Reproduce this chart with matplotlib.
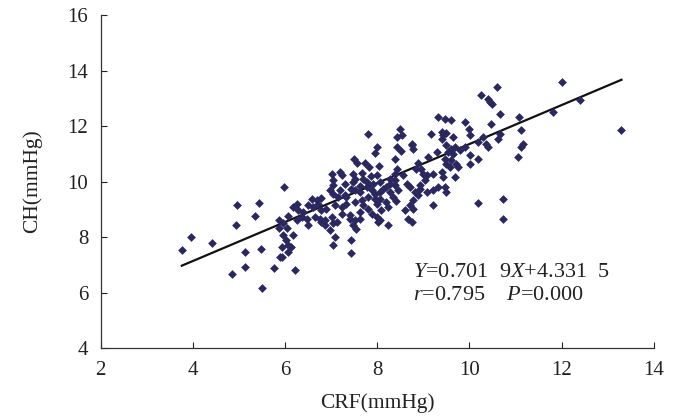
import matplotlib
matplotlib.use("Agg")
import matplotlib.pyplot as plt
import numpy as np

# CRF vs CH (mmHg)
crf = [3.76, 3.95, 4.41, 4.84, 4.93, 4.96, 5.13, 5.13, 5.34, 5.43, 5.49, 5.51, 5.77,
       5.87, 5.88, 5.89, 5.93, 5.93, 5.96, 5.96, 5.98, 6.03, 6.05, 6.07, 6.07, 6.07,
       6.14, 6.18, 6.18, 6.21, 6.25, 6.25, 6.29, 6.36, 6.39, 6.47, 6.50, 6.50,
       6.58, 6.61, 6.65, 6.69, 6.72, 6.76, 6.79, 6.79, 6.79, 6.87, 6.87,
       6.90, 6.97, 6.97, 7.01, 7.01, 7.05, 7.05, 7.05, 7.05,
       7.08, 7.19, 7.19, 7.23, 7.23, 7.30, 7.33, 7.41, 7.44, 7.44, 7.44, 7.48, 7.49,
       7.52, 7.52, 7.52, 7.52, 7.55, 7.57, 7.62, 7.62, 7.66, 7.66, 7.70, 7.73, 7.77,
       7.80, 7.80, 7.81, 7.83, 7.86, 7.88, 7.95, 7.95, 7.99, 7.99, 7.99, 8.04, 8.06,
       8.06, 8.06, 8.20, 8.20, 8.24, 8.27, 8.27, 8.35, 8.38, 8.38, 8.38, 8.38, 8.42,
       8.42, 8.42, 8.46, 8.49, 8.51, 8.53, 8.60, 8.75, 8.75, 8.78, 8.78, 8.89, 8.89,
       8.92, 8.96, 9.07,
       7.12, 7.48, 8.02, 7.08, 7.41, 7.62, 7.88, 8.09, 8.24, 8.67, 7.70, 7.99, 8.40,
       7.05, 7.15, 7.33, 7.95, 8.13, 8.27, 8.64, 7.30, 7.62, 7.91, 8.06, 8.56,
       7.23, 7.77, 7.48,
       12.00, 10.59, 10.25, 10.41, 10.44, 10.48, 10.66, 11.07, 11.82, 12.41, 13.30,
       9.32, 9.47, 9.61, 9.90, 10.47, 10.00, 10.01,
       9.17, 9.40, 9.43, 9.50, 9.40, 9.65,
       10.19, 10.30, 10.37, 10.41, 10.66, 10.63,
       11.13, 11.17, 11.13, 11.06,
       9.50, 9.61, 9.69, 9.54, 9.65, 9.79,
       9.90, 10.01, 10.01, 10.19,
       9.11, 9.29, 9.47, 9.50, 9.61, 9.72, 9.76, 9.58,
       9.00, 9.07, 9.22, 9.03, 9.40, 9.43, 9.69,
       8.93, 9.22, 9.32, 9.47, 9.50, 9.22, 10.19, 10.72, 10.72,
       8.75, 8.85, 8.71, 8.82, 8.78, 8.71]
ch = [7.55, 8.01, 7.80, 6.67, 8.43, 9.16, 7.45, 6.91, 8.77, 9.22, 7.59, 6.16, 6.87,
      8.32, 8.62, 7.30, 7.66, 7.27, 8.08, 8.50, 9.81, 7.90, 8.33, 7.48, 7.72, 8.75,
      7.65, 8.08, 9.09, 6.80, 8.61, 9.21, 8.97, 8.73, 8.91, 8.67, 8.44, 9.15,
      9.39, 9.09, 8.73, 9.33, 9.21, 8.67, 8.97, 8.55, 9.40, 8.61, 8.43,
      9.03, 9.69, 8.25, 10.29, 8.73, 9.87, 10.05, 8.50, 7.72,
      9.15, 9.69, 10.35, 9.09, 8.85, 9.51, 9.21, 8.67, 9.75, 7.90, 7.42, 10.29, 10.83,
      9.69, 9.27, 10.11, 8.61, 8.31, 10.68, 9.63, 8.67, 9.33, 10.32, 10.11, 10.68, 9.81,
      9.45, 9.03, 11.73, 10.51, 10.20, 9.69, 9.39, 11.04, 10.23, 11.25, 8.73, 10.56, 9.39,
      9.63, 8.61, 9.81, 9.27, 8.43, 9.93, 10.11, 9.45, 9.87, 10.05, 10.80, 10.29, 10.44,
      11.23, 11.59, 9.69, 11.88, 11.11, 11.67, 8.97, 11.37, 8.55, 11.16, 9.03, 10.68, 9.51,
      9.75, 10.47, 9.63,
      8.55, 8.43, 8.55, 8.01, 8.79, 8.91, 8.85, 8.97, 9.09, 8.67, 9.15, 9.20, 9.30,
      9.57, 9.45, 9.45, 9.57, 9.75, 9.63, 9.93, 9.93, 9.85, 9.93, 10.00, 10.23,
      10.25, 9.99, 9.99,
      13.59, 13.41, 13.11, 12.99, 12.87, 12.79, 12.43, 12.33, 12.51, 12.93, 11.85,
      12.31, 12.24, 12.21, 12.13, 12.09, 11.88, 11.67,
      11.71, 11.79, 11.67, 11.76, 11.52, 11.61,
      11.43, 11.59, 11.37, 11.23, 11.73, 11.55,
      11.85, 11.37, 11.23, 10.89,
      11.31, 11.19, 11.25, 11.07, 11.01, 11.13,
      11.23, 10.95, 10.65, 10.83,
      10.89, 11.07, 10.83, 10.65, 10.77, 10.65, 10.53, 10.53,
      10.29, 10.23, 10.29, 10.05, 10.35, 10.17, 10.17,
      9.87, 9.69, 9.81, 9.81, 9.63, 9.15, 9.24, 9.36, 8.67,
      11.31, 10.47, 9.81, 9.63, 9.33, 9.15]

slope = 0.7019
intercept = 4.3315
x_ticks = [2, 4, 6, 8, 10, 12, 14]
y_ticks = [4, 6, 8, 10, 12, 14, 16]

plt.rcParams['font.family'] = ['Liberation Serif', 'DejaVu Serif']
plt.rcParams['mathtext.fontset'] = 'custom'
plt.rcParams['mathtext.rm'] = 'Liberation Serif'
plt.rcParams['mathtext.it'] = 'Liberation Serif:italic'

fig = plt.figure(figsize=(6.94, 4.16), dpi=100)
ax = fig.add_axes([0.145, 0.163, 0.797, 0.801])

ax.scatter(crf, ch, marker='D', s=20, color='#2a285e', linewidths=0, zorder=3)

xl = np.array([min(crf), max(crf)])
ax.plot(xl, slope * xl + intercept, color='#111111', lw=1.6, zorder=2)

ax.set_xlim(2, 14)
ax.set_ylim(4, 16)
ax.set_xticks(x_ticks)
ax.set_yticks(y_ticks)
ax.tick_params(direction='in', length=4, width=0.8, labelsize=15, pad=9, colors='#222222')
for s in ['top', 'right']:
    ax.spines[s].set_visible(False)
for s in ['left', 'bottom']:
    ax.spines[s].set_color('#333333')
    ax.spines[s].set_linewidth(0.9)

ax.set_xlabel('CRF(mmHg)', fontsize=15.5, color='#222222', labelpad=10)
ax.set_ylabel('CH(mmHg)', fontsize=15.5, color='#222222', labelpad=18)

ax.text(8.78, 6.74, r'$Y$=0.701  9$X$+4.331  5', fontsize=16, va='center', ha='left', color='#222222')
ax.text(8.78, 5.88, r'$r$=0.795    $P$=0.000', fontsize=16, va='center', ha='left', color='#222222')

fig.savefig('out.png', dpi=100)
